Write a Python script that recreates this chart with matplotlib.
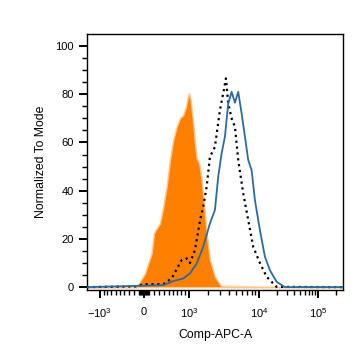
import matplotlib
matplotlib.use("Agg")
import matplotlib.pyplot as plt
import numpy as np

plt.rcParams["font.family"] = ["Liberation Sans", "DejaVu Sans"]
plt.rcParams["mathtext.default"] = "regular"

# izotyp (wypełniony, pomarańczowy)
orange_x = [-1405, -300, -147, -80, 20, 84, 151, 197, 251, 318, 387, 459, 531, 606, 685, 765,
            848, 919, 981, 1005, 1074, 1191, 1275, 1363, 1496, 1630, 1768, 1940, 2167, 2555, 3167, 265000]
orange_y = [0, 0, 0.1, 2.2, 5.7, 9.8, 14.0, 22.3, 24.3, 26.4, 33.3, 41.6, 52.7, 61.0, 66.5, 70.0,
            71.4, 74.8, 79.7, 80.4, 77.6, 67.9, 59.6, 53.4, 51.3, 44.4, 34.7, 22.3, 11.2, 4.3, 0.1, 0]
# jasna "poświata" przy podstawie
glow_x = [-600, -300, 0, 500, 1000, 2000, 4000, 8000, 20000]
glow_y = [0, 0.6, 1.0, 1.2, 1.2, 1.2, 1.0, 0.6, 0]

# próbka (kropkowana, czarna)
dotted_x = [-1405, -147, -20, 387, 569, 807, 938, 1043, 1275, 1545, 1725, 1940, 2167, 2555, 3000,
            3332, 3627, 3897, 4333, 4799, 5313, 6195, 7220, 8405, 10400, 13510, 19970, 265000]
dotted_y = [0, 0.3, 1.2, 1.2, 3.6, 11.2, 11.9, 10.0, 15.4, 27.8, 33.3, 41.6, 54.0, 58.2, 73.4,
            80.4, 86.6, 76.2, 70.0, 66.5, 52.7, 38.9, 27.8, 16.7, 10.0, 4.3, 0.1, 0]

# próbka (ciągła, niebieska)
blue_x = [-1405, 387, 606, 848, 1043, 1363, 1725, 2167, 2555, 2841, 3167, 3515, 3897, 4333, 4799,
          5313, 5898, 6527, 7220, 8009, 8857, 10400, 12650, 15370, 19970, 27620, 265000]
blue_y = [0, 0.8, 2.5, 3.6, 5.7, 9.8, 16.7, 26.4, 32.0, 45.8, 55.5, 62.4, 76.2, 81.0, 76.5,
          81.0, 72.0, 62.4, 52.7, 48.5, 36.0, 23.6, 12.6, 7.0, 2.2, 0, 0]

major_ticks = [-1000, 0, 1000, 1e4, 1e5]
major_labels = [r"$-10^3$", "0", r"$10^3$", r"$10^4$", r"$10^5$"]
minor_ticks = ([-k * 100 for k in range(1, 10)] + [k * 100 for k in range(1, 10)]
               + [-k * 10 for k in range(2, 10, 2)] + [k * 10 for k in range(2, 10, 2)]
               + [k * 1000 for k in range(2, 10)] + [k * 10000 for k in range(2, 10)] + [200000])

# skala biwykładnicza (asinh z kotwicami dopasowanymi do osi)
W = 1000.0
anchor_x = np.array([-1e5, -1000, 0, 1000, 1e4, 1e5, 1e6])
anchor_a = np.arcsinh(anchor_x / W)
anchor_p = np.array([-120.6, 100, 144, 189, 259, 318, 377])


def forward(x):
    return np.interp(np.arcsinh(np.asarray(x) / W), anchor_a, anchor_p)


def inverse(p):
    return W * np.sinh(np.interp(np.asarray(p), anchor_p, anchor_a))


fig = plt.figure(figsize=(3.64, 3.59), dpi=100)
ax = fig.add_axes([0.239, 0.1922, 0.703, 0.7131])
ax.set_xscale("function", functions=(forward, inverse))

ax.fill_between(glow_x, glow_y, 0, color="#ffe2c2", linewidth=0, zorder=1)
ax.fill_between(orange_x, orange_y, 0, color="#ff8000", edgecolor="#ffc48a", linewidth=1.0, zorder=2)
ax.plot(dotted_x, dotted_y, color="black", linestyle=":", linewidth=1.6, zorder=3)
ax.plot(blue_x, blue_y, color="#2c6aa2", linewidth=1.3, zorder=4)

ax.set_xlim(-1405, 265000)
ax.set_ylim(-1.2, 105)

ax.set_xticks(major_ticks)
ax.set_xticklabels(major_labels)
ax.set_xticks(minor_ticks, minor=True)
ax.set_yticks([0, 20, 40, 60, 80, 100])
ax.set_yticks(np.arange(5, 105, 5), minor=True)

ax.tick_params(axis="both", which="major", direction="out", length=6, width=1.4, labelsize=8, colors="black")
ax.tick_params(axis="both", which="minor", direction="out", length=3.5, width=1.0)
ax.tick_params(axis="x", which="major", pad=6)

for s in ax.spines.values():
    s.set_linewidth(1.0)

ax.set_xlabel("Comp-APC-A", fontsize=8.8, labelpad=6)
ax.set_ylabel("Normalized To Mode", fontsize=8.8, labelpad=6)

plt.savefig("out.png", dpi=100)
